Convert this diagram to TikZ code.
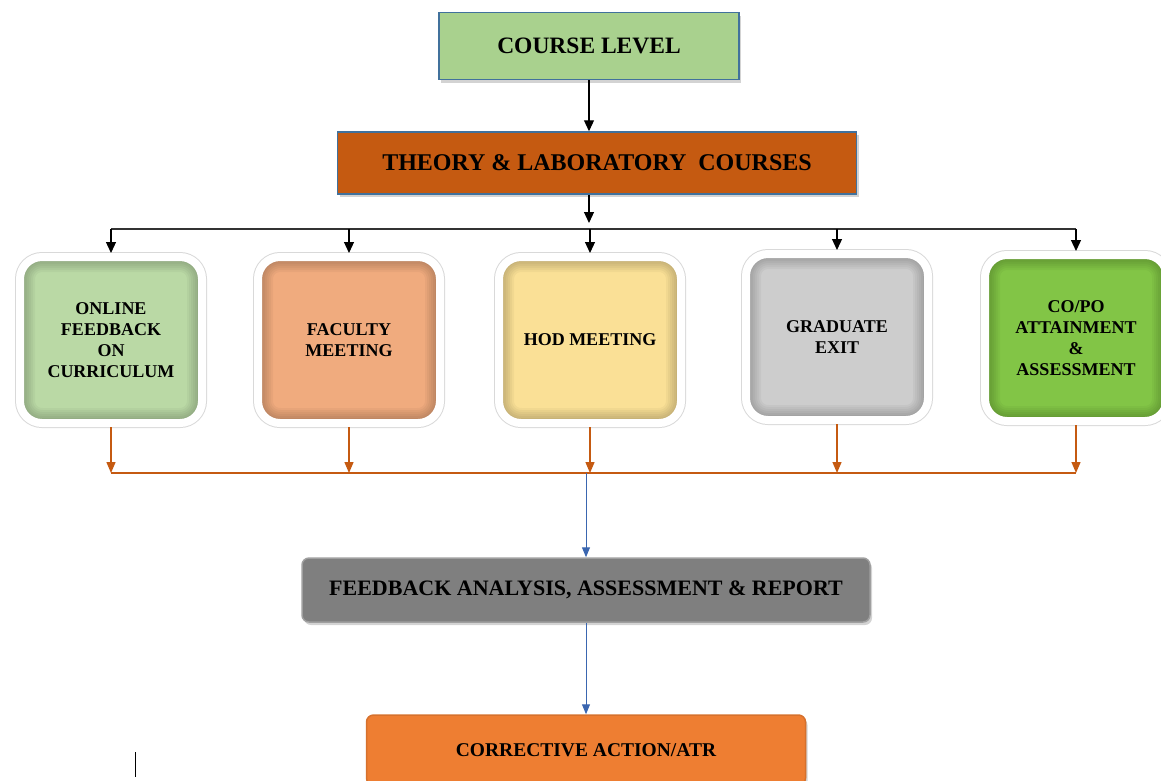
\documentclass[tikz,border=0pt]{standalone}
\usepackage{fontspec}
\setmainfont{Liberation Serif}
\usetikzlibrary{positioning,shadows,arrows.meta}

\definecolor{courseGreen}{HTML}{A9D18E}
\definecolor{frameBlue}{HTML}{41719C}
\definecolor{theoryRust}{HTML}{C55A11}
\definecolor{onlineGreen}{HTML}{BAD9A5}
\definecolor{facultySalmon}{HTML}{F0AB7E}
\definecolor{hodYellow}{HTML}{FAE096}
\definecolor{gradGray}{HTML}{CDCDCD}
\definecolor{copoGreen}{HTML}{82C546}
\definecolor{fbGray}{HTML}{7F7F7F}
\definecolor{actOrange}{HTML}{EE7E32}
\definecolor{flowBlue}{HTML}{3A66B0}

\tikzset{
  levelbox/.style={draw=frameBlue, line width=1.5pt, inner sep=0pt,
    drop shadow={opacity=0.35, shadow xshift=2pt, shadow yshift=-3pt}},
  bevel/.style={path picture={
    \foreach \w in {30,26,22,18,14,10}
      \draw[black, opacity=0.035, line width=\w pt, rounded corners=#1]
        (path picture bounding box.south west) rectangle (path picture bounding box.north east);}},
  rowbox/.style={rounded corners=22pt, draw=white, line width=8pt,
    minimum width=182pt, minimum height=166pt, align=center, inner sep=0pt,
    font=\fontsize{18}{21}\selectfont\bfseries, bevel=22pt,
    drop shadow={opacity=0.3, shadow xshift=2pt, shadow yshift=-3pt},
    preaction={draw=black!15, line width=10pt}},
  resultbox/.style={rounded corners=7pt, inner sep=0pt,
    drop shadow={opacity=0.35, shadow xshift=2pt, shadow yshift=-3pt}},
  blackarrow/.style={line width=1.2pt, -{Triangle[width=10pt,length=11pt]}},
  busline/.style={line width=1.2pt, black!80},
  orangearrow/.style={line width=1.3pt, theoryRust, -{Triangle[width=9pt,length=11pt]}},
  orangeline/.style={line width=1.3pt, theoryRust},
  bluearrow/.style={line width=1pt, flowBlue, -{Triangle[width=8pt,length=10pt]}}
}

\begin{document}
\begin{tikzpicture}[x=1pt, y=-1pt]
  \useasboundingbox (0,0) rectangle (1161,780);
  \clip (0,0) rectangle (1161,780);

  \node[levelbox, fill=courseGreen, minimum width=300pt, minimum height=67pt,
        font=\fontsize{23.5}{26}\selectfont\bfseries] (course) at (589,46) {COURSE LEVEL};
  \node[levelbox, fill=theoryRust, minimum width=519pt, minimum height=62pt,
        below=51pt of course, xshift=8pt,
        font=\fontsize{24}{27}\selectfont\bfseries] (theory) {THEORY \& LABORATORY\ \ COURSES};

  \node[rowbox, fill=onlineGreen]   (online)  at (111,340) {ONLINE\\FEEDBACK\\ON\\CURRICULUM};
  \node[rowbox, fill=facultySalmon] (faculty) at (349,340) {FACULTY\\MEETING};
  \node[rowbox, fill=hodYellow]     (hod)     at (590,340) {HOD MEETING};
  \node[rowbox, fill=gradGray]      (grad)    at (837,337) {GRADUATE\\EXIT};
  \node[rowbox, fill=copoGreen]     (copo)    at (1076,338) {CO/PO\\ATTAINMENT\\\&\\ASSESSMENT};

  \node[resultbox, fill=fbGray, draw=gray!75, line width=1.5pt,
        minimum width=568pt, minimum height=64pt,
        font=\fontsize{22}{25}\selectfont\bfseries] (fb) at (586,590)
        {FEEDBACK ANALYSIS, ASSESSMENT \& REPORT};
  \node[resultbox, fill=actOrange, draw=actOrange!90!black, line width=1.5pt,
        minimum width=439pt, minimum height=70pt,
        font=\fontsize{19.5}{22}\selectfont\bfseries] (act) at (586,750)
        {CORRECTIVE ACTION/ATR};

  \coordinate (split) at (589,229);
  \coordinate (merge) at (586,473);

  % top part
  \draw[blackarrow] (course.south) -- (theory.north -| course.south);
  \draw[blackarrow, shorten >=6pt] (theory.south -| split) -- (split);
  \draw[busline] (online.north |- split) -- (copo.north |- split);
  \draw[blackarrow] (online.north |- split) -- (online.north);
  \draw[blackarrow] (faculty.north |- split) -- (faculty.north);
  \draw[blackarrow] (hod.north |- split) -- (hod.north);
  \draw[blackarrow] (grad.north |- split) -- (grad.north);
  \draw[blackarrow] (copo.north |- split) -- (copo.north);

  % feedback collection
  \draw[orangearrow] (online.south) -- (online.south |- merge);
  \draw[orangearrow] (faculty.south) -- (faculty.south |- merge);
  \draw[orangearrow] (hod.south) -- (hod.south |- merge);
  \draw[orangearrow] (grad.south) -- (grad.south |- merge);
  \draw[orangearrow] (copo.south) -- (copo.south |- merge);
  \draw[orangeline] (online.south |- merge) -- (copo.south |- merge);

  \draw[bluearrow] (merge) -- (fb.north);
  \draw[bluearrow] (fb.south) -- (act.north -| fb.south);

  \draw[line width=1pt] (135,752) -- (135,777);
\end{tikzpicture}
\end{document}
